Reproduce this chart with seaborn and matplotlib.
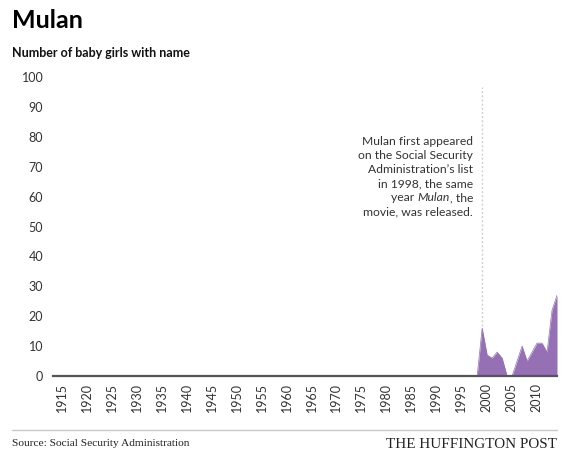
import numpy as np
import pandas as pd
import matplotlib
matplotlib.use("Agg")
import matplotlib.pyplot as plt
import matplotlib.transforms as mtransforms
import seaborn as sns

# Data (SSA counts, blank years shown as 0)
years = list(range(1912, 2014))
girls_before_1998 = [0] * 86
girls_1998_on = [16, 7, 6, 8, 6, 0, 0, 5, 10, 5, 8, 11, 11, 8, 22, 27]
girls = girls_before_1998 + girls_1998_on
tick_years = list(range(1915, 2011, 5))
y_ticks = list(range(0, 101, 10))
release_year = 1998

df = pd.DataFrame({"year": years, "girls": girls})

sns.set_theme(style="white")
plt.rcParams["font.family"] = ["Lato", "DejaVu Sans"]

purple = "#9570B4"
text_grey = "#333333"

fig = plt.figure(figsize=(5.7, 4.63), dpi=100)
W, H = 570, 463
ax = fig.add_axes([53 / W, 1 - 376 / H, (557 - 53) / W, (376 - 77) / H])

# area
ax.fill_between(df["year"], df["girls"], 0, color=purple, linewidth=0, zorder=2)
sns.lineplot(data=df, x="year", y="girls", ax=ax, color=purple, linewidth=0.5, zorder=3)

# release marker
ax.vlines(release_year, 0, 96.5, colors="#d0d0d0", linestyles=(0, (1.5, 1.5)), linewidth=1, zorder=1)

ax.set_xlim(years[0], years[-1])
ax.set_ylim(0, 100)
ax.set_xticks(tick_years)
ax.set_xticklabels([str(y) for y in tick_years], rotation=90, fontsize=9, color=text_grey)
ax.set_yticks(y_ticks)
ax.set_yticklabels([str(v) for v in y_ticks], fontsize=9, color=text_grey)
ax.tick_params(axis="both", length=0)
ax.tick_params(axis="x", pad=5)
ax.tick_params(axis="y", pad=7)
ax.set_xlabel("")
ax.set_ylabel("")
sns.despine(ax=ax, left=True, top=True, right=True)
ax.spines["bottom"].set_color("#555555")
ax.spines["bottom"].set_linewidth(1.6)
ax.spines["bottom"].set_zorder(4)

# nudge rotated x labels to the left like the original
shift = mtransforms.ScaledTranslation(-6 / 100, 0, fig.dpi_scale_trans)
for lab in ax.get_xticklabels():
    lab.set_transform(lab.get_transform() + shift)

# annotation, right aligned, with italic film title
ann_x = 473 / W
ann_lines = ["Mulan first appeared", "on the Social Security", "Administration\u2019s list",
             "in 1998, the same", None, "movie, was released."]
ann_y = [141.5, 155.5, 169.5, 183.5, 197.5, 211.5]
ann_size = 8.7
for line, yy in zip(ann_lines, ann_y):
    if line is not None:
        fig.text(ann_x, 1 - yy / H, line, ha="right", va="center", fontsize=ann_size, color=text_grey)

fig.canvas.draw()
renderer = fig.canvas.get_renderer()
y5 = 1 - ann_y[4] / H
t_end = fig.text(ann_x, y5, ", the", ha="right", va="center", fontsize=ann_size, color=text_grey)
w_end = t_end.get_window_extent(renderer).width / W
t_mid = fig.text(ann_x - w_end, y5, "Mulan", ha="right", va="center", fontsize=ann_size,
                 color=text_grey, style="italic")
w_mid = t_mid.get_window_extent(renderer).width / W
fig.text(ann_x - w_end - w_mid, y5, "year ", ha="right", va="center", fontsize=ann_size, color=text_grey)

# titles
fig.text(12 / W, 1 - 20 / H, "Mulan", ha="left", va="center", fontsize=18, fontweight="bold", color="black")
fig.text(12 / W, 1 - 53 / H, "Number of baby girls with name", ha="left", va="center",
         fontsize=9, fontweight="bold", color="#111111")

# footer
fig.add_artist(plt.Line2D([12 / W, 557 / W], [1 - 430 / H, 1 - 430 / H], color="#c8c8c8", linewidth=1))
fig.text(12 / W, 1 - 443 / H, "Source: Social Security Administration", ha="left", va="center",
         fontsize=8.2, family=["Liberation Serif"], color="#222222")
fig.text(557 / W, 1 - 444 / H, "THE HUFFINGTON POST", ha="right", va="center",
         fontsize=10.9, family=["Liberation Serif"], color="#222222")

fig.savefig("out.png", dpi=100)
